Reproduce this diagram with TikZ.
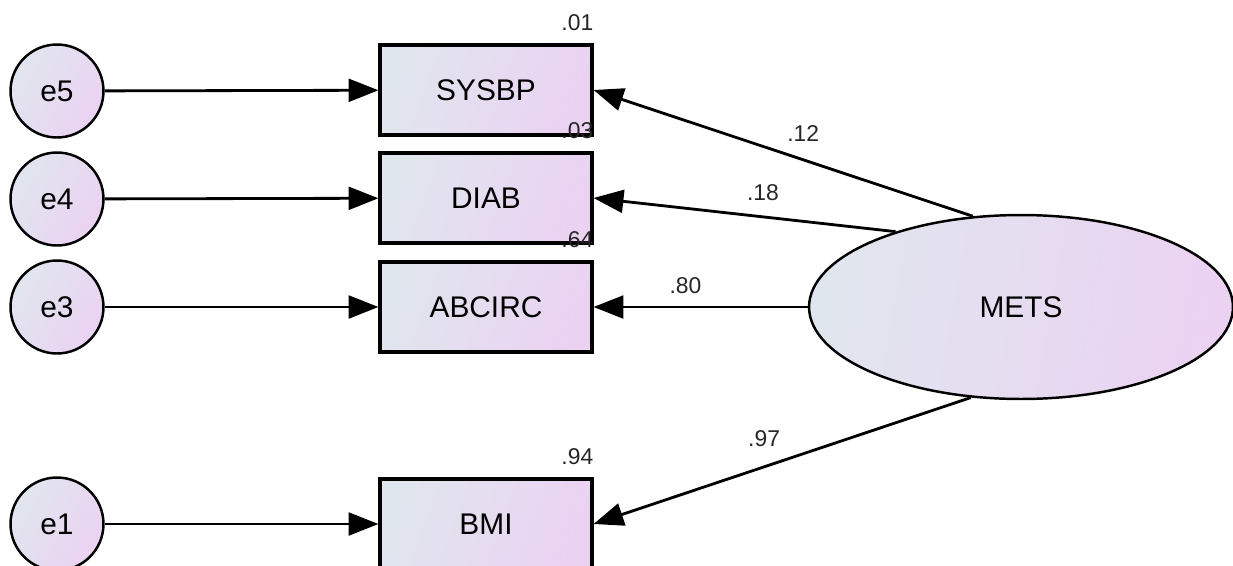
\documentclass[tikz,border=0pt]{standalone}
\usepackage{fontspec}
\setmainfont{Liberation Sans}
\usetikzlibrary{arrows.meta}
\usetikzlibrary{shapes.geometric}
\definecolor{shadeleft}{HTML}{E0E6EE}
\definecolor{shaderight}{HTML}{EBD2F2}
\tikzset{>={Triangle[length=17pt,width=13pt]}}
\tikzset{
  obsvar/.style={draw, line width=1.8pt, minimum width=4.24cm, minimum height=1.8cm,
    inner sep=0, left color=shadeleft, right color=shaderight, shading angle=70,
    font=\fontsize{17}{20}\selectfont},
  errvar/.style={draw, circle, line width=1.4pt, minimum size=1.86cm, inner sep=0,
    left color=shadeleft, right color=shaderight, shading angle=60,
    font=\fontsize{17}{20}\selectfont},
  latvar/.style={draw, ellipse, line width=1.4pt, minimum width=8.48cm, minimum height=3.68cm,
    inner sep=0, left color=shadeleft, right color=shaderight, shading angle=80,
    font=\fontsize{17}{20}\selectfont},
  rsq/.style={anchor=south east, inner sep=0, yshift=7pt, text=black!85,
    font=\fontsize{13}{15}\selectfont},
  wgt/.style={anchor=south, inner sep=0, text=black!85, font=\fontsize{13}{15}\selectfont},
  path/.style={line width=1.6pt, ->}
}

\begin{document}
\begin{tikzpicture}[x=0.02cm,y=-0.02cm]

  \useasboundingbox (0,0) rectangle (1233,565);
  \clip (0,0) rectangle (1233,565);

  % observed variables
  \node[obsvar] (sysbp) at (486,90) {SYSBP};
  \node[obsvar] (diab) at (486,198) {DIAB};
  \node[obsvar] (abcirc) at (486,307) {ABCIRC};
  \node[obsvar] (bmi) at (486,524) {BMI};

  % error terms
  \node[errvar] (e5) at (57,91) {e5};
  \node[errvar] (e4) at (57,199) {e4};
  \node[errvar] (e3) at (57,307) {e3};
  \node[errvar] (e1) at (57,524) {e1};

  % latent factor
  \node[latvar] (mets) at (1021,307) {METS};

  % squared multiple correlations
  \node[rsq] (r5) at (sysbp.north east) {.01};
  \node[rsq] (r4) at (diab.north east) {.03};
  \node[rsq] (r3) at (abcirc.north east) {.64};
  \node[rsq] (r1) at (bmi.north east) {.94};

  \draw[path] (e5) -- (sysbp);
  \draw[path] (e4) -- (diab);
  \draw[path] (e3) -- (abcirc);
  \draw[path] (e1) -- (bmi);

  % loadings
  \draw[path] (mets.118.8) -- node[wgt, pos=0.447, yshift=9.5pt] (w5) {.12} (sysbp.east);
  \draw[path] (mets.149.4) -- node[wgt, pos=0.439, yshift=8.3pt] (w4) {.18} (diab.east);
  \draw[path] (mets.west) -- node[wgt, pos=0.571, yshift=6.8pt] (w3) {.80} (abcirc.east);
  \draw[path] (mets.241.5) -- node[wgt, pos=0.548, yshift=10.5pt] (w1) {.97} (bmi.east);

\end{tikzpicture}
\end{document}
